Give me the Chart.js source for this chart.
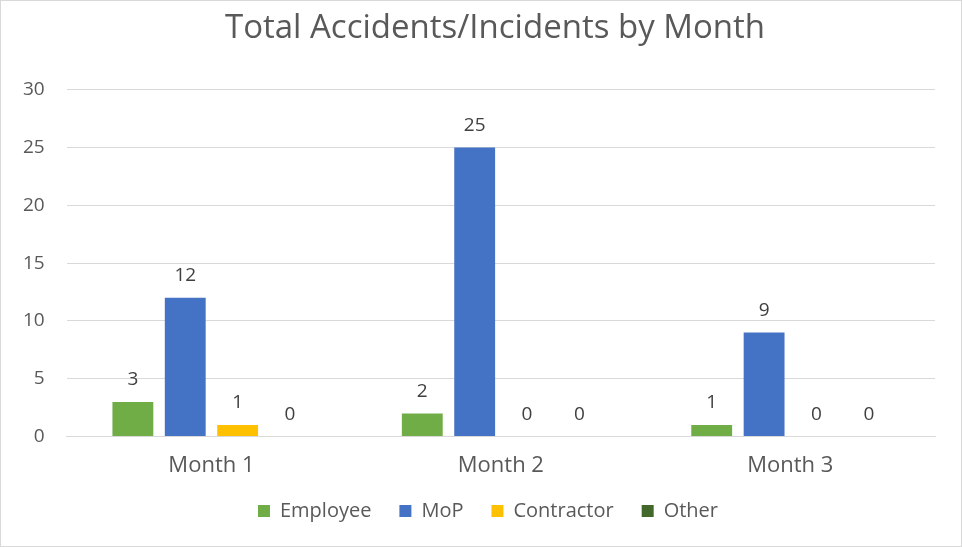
<!DOCTYPE html>
<html><head><meta charset="utf-8">
<script src="https://cdn.jsdelivr.net/npm/chart.js@4/dist/chart.umd.min.js"></script>
<style>
html,body{margin:0;padding:0;background:#fff;}
#wrap{position:absolute;left:0;top:0;width:960px;height:545px;border:1px solid #d9d9d9;box-sizing:content-box;}
canvas{display:block;}
</style></head>
<body><div id="wrap"><canvas id="c" width="960" height="545"></canvas></div>
<script>
const categories = ["Month 1", "Month 2", "Month 3"];
const employee = [3, 2, 1];
const mop = [12, 25, 9];
const contractor = [1, 0, 0];
const other = [0, 0, 0];
const yTicks = [0, 5, 10, 15, 20, 25, 30];

const FONT = "'Open Sans', 'Noto Sans', sans-serif";
const labelPlugin = {
  id: 'valLabels',
  afterLayout(chart) {
    if (chart.legend) { chart.legend.left += 20; chart.legend.right += 20; }
    if (chart.titleBlock) { chart.titleBlock.left += 27; chart.titleBlock.right += 27; }
  },
  afterDatasetsDraw(chart) {
    const ctx = chart.ctx;
    ctx.save();
    ctx.font = "19px " + FONT;
    ctx.fillStyle = '#404040';
    ctx.textAlign = 'center';
    ctx.textBaseline = 'middle';
    chart.data.datasets.forEach((ds, i) => {
      chart.getDatasetMeta(i).data.forEach((bar, j) => {
        ctx.fillText(String(ds.data[j]), bar.x, bar.y - 22);
      });
    });
    ctx.restore();
  }
};

new Chart(document.getElementById('c'), {
  type: 'bar',
  data: {
    labels: categories,
    datasets: [
      {label: 'Employee', data: employee, backgroundColor: '#70ad47'},
      {label: 'MoP', data: mop, backgroundColor: '#4472c4'},
      {label: 'Contractor', data: contractor, backgroundColor: '#ffc000'},
      {label: 'Other', data: other, backgroundColor: '#43682b'}
    ]
  },
  options: {
    responsive: false,
    animation: false,
    devicePixelRatio: 1,
    categoryPercentage: 0.724,
    barPercentage: 0.78,
    layout: {padding: {left: 0, right: 26, top: 8, bottom: 15}},
    plugins: {
      title: {display: true, text: 'Total Accidents/Incidents by Month', color: '#595959',
        font: {family: FONT, size: 33, weight: 'normal'}, padding: {top: 0, bottom: 41}},
      legend: {position: 'bottom', labels: {color: '#595959', font: {family: FONT, size: 20},
        boxWidth: 12, boxHeight: 12, padding: 28}},
      tooltip: {enabled: false}
    },
    scales: {
      x: {
        clip: false,
        grid: {display: false, drawTicks: false},
        border: {display: true, color: '#d9d9d9'},
        ticks: {color: '#595959', font: {family: FONT, size: 22}, padding: 16},
        afterFit(scale) { scale.height -= 22; }
      },
      y: {
        min: 0, max: 30,
        afterBuildTicks(axis) { axis.ticks = yTicks.map(v => ({value: v})); },
        grid: {color: '#d9d9d9', drawTicks: false},
        border: {display: false},
        ticks: {color: '#595959', font: {family: FONT, size: 19}, padding: 22}
      }
    }
  },
  plugins: [labelPlugin]
});
</script></body></html>
